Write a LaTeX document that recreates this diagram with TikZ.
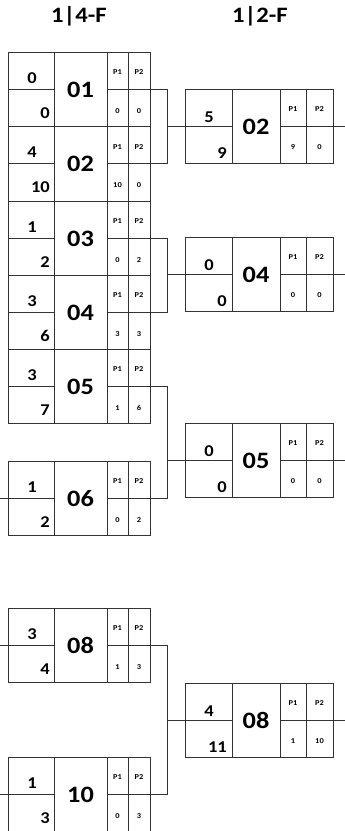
\documentclass[tikz,border=0pt]{standalone}
\usepackage{fontspec}
\setmainfont{Carlito}
\newfontfamily\widefont[FakeStretch=1.12]{Carlito}
\newcommand\lbox[8]{%
  \node[frame, minimum width=142pt, minimum height=74.5pt] (#1) at (#2,#3) {};
  \begin{scope}[shift={(#2,#3)}]
    \draw[ln] (46,0) -- (46,74.5) (99,0) -- (99,74.5) (120,0) -- (120,74.5);
    \draw[ln] (0,37) -- (46,37) (99,37) -- (142,37);
    \node[corner, anchor=base] (#1-tl) at (24,31) {#4};
    \node[corner, anchor=base east] (#1-br) at (42,66) {#5};
    \node[ident] (#1-id) at (72.5,37.5) {#6};
    \node[tiny] (#1-pa) at (109.5,20.5) {P1};
    \node[tiny] (#1-pb) at (131,20.5) {P2};
    \node[tiny] (#1-va) at (109.5,59) {#7};
    \node[tiny] (#1-vb) at (131,59) {#8};
  \end{scope}}
\newcommand\rbox[8]{%
  \node[frame, minimum width=148pt, minimum height=74pt] (#1) at (#2,#3) {};
  \begin{scope}[shift={(#2,#3)}]
    \draw[ln] (47,0) -- (47,74) (95,0) -- (95,74) (121,0) -- (121,74);
    \draw[ln] (0,37) -- (47,37) (95,37) -- (148,37);
    \node[corner, anchor=base] (#1-tl) at (24,33) {#4};
    \node[corner, anchor=base east] (#1-br) at (42,69.5) {#5};
    \node[ident] (#1-id) at (71,37.5) {#6};
    \node[tiny] (#1-pa) at (108,20.5) {P1};
    \node[tiny] (#1-pb) at (134.5,20.5) {P2};
    \node[tiny] (#1-va) at (108,58.5) {#7};
    \node[tiny] (#1-vb) at (134.5,58.5) {#8};
  \end{scope}}
\begin{document}
\begin{tikzpicture}[x=1pt,y=-1pt,
  ln/.style={draw=black!80, line width=0.9pt},
  frame/.style={ln, rectangle, inner sep=0pt, outer sep=0pt, anchor=north west},
  corner/.style={font=\widefont\bfseries\fontsize{16.5}{16.5}\selectfont, inner sep=0pt},
  ident/.style={font=\widefont\bfseries\fontsize{23.5}{23.5}\selectfont, inner sep=0pt},
  tiny/.style={font=\widefont\bfseries\fontsize{7.5}{7.5}\selectfont, inner sep=0pt},
  title/.style={font=\widefont\bfseries\fontsize{22}{22}\selectfont, inner sep=0pt}]
\useasboundingbox (0,0) rectangle (345,831);
\fill[white] (0,0) rectangle (345,831);
\node[title] (t1) at (79,16) {1|4-F};
\node[title] (t2) at (260,16) {1|2-F};
\coordinate (kA) at (167,0);
\coordinate (ledge) at (0,0);
\coordinate (redge) at (345,0);
% left column
\lbox{b01}{8}{52}{0}{0}{01}{0}{0}
\lbox{b02}{8}{126.5}{4}{10}{02}{10}{0}
\lbox{b03}{8}{201}{1}{2}{03}{0}{2}
\lbox{b04}{8}{275}{3}{6}{04}{3}{3}
\lbox{b05}{8}{349}{3}{7}{05}{1}{6}
\lbox{b06}{8}{461}{1}{2}{06}{0}{2}
\lbox{b08}{8}{608}{3}{4}{08}{1}{3}
\lbox{b10}{8}{757}{1}{3}{10}{0}{3}
% right column
\rbox{r02}{185}{89}{5}{9}{02}{9}{0}
\rbox{r04}{185}{237}{0}{0}{04}{0}{0}
\rbox{r05}{185}{423}{0}{0}{05}{0}{0}
\rbox{r08}{185}{683}{4}{11}{08}{1}{10}
% brackets
\draw[ln] (b01.east) -| (kA |- b02.east) -- (b02.east);
\draw[ln] (r02.west) -- (r02.west -| kA);
\draw[ln] (b03.east) -| (kA |- b04.east) -- (b04.east);
\draw[ln] (r04.west) -- (r04.west -| kA);
\draw[ln] (b05.east) -| (kA |- b06.east) -- (b06.east);
\draw[ln] (r05.west) -- (r05.west -| kA);
\draw[ln] (b08.east) -| (kA |- b10.east) -- (b10.east);
\draw[ln] (r08.west) -- (r08.west -| kA);
% free ends
\draw[ln] (r02.east) -- (r02.east -| redge);
\draw[ln] (r04.east) -- (r04.east -| redge);
\draw[ln] (r05.east) -- (r05.east -| redge);
\draw[ln] (r08.east) -- (r08.east -| redge);
\draw[ln] (b06.west) -- (b06.west -| ledge);
\draw[ln] (b08.west) -- (b08.west -| ledge);
\draw[ln] (b10.west) -- (b10.west -| ledge);
\end{tikzpicture}
\end{document}
